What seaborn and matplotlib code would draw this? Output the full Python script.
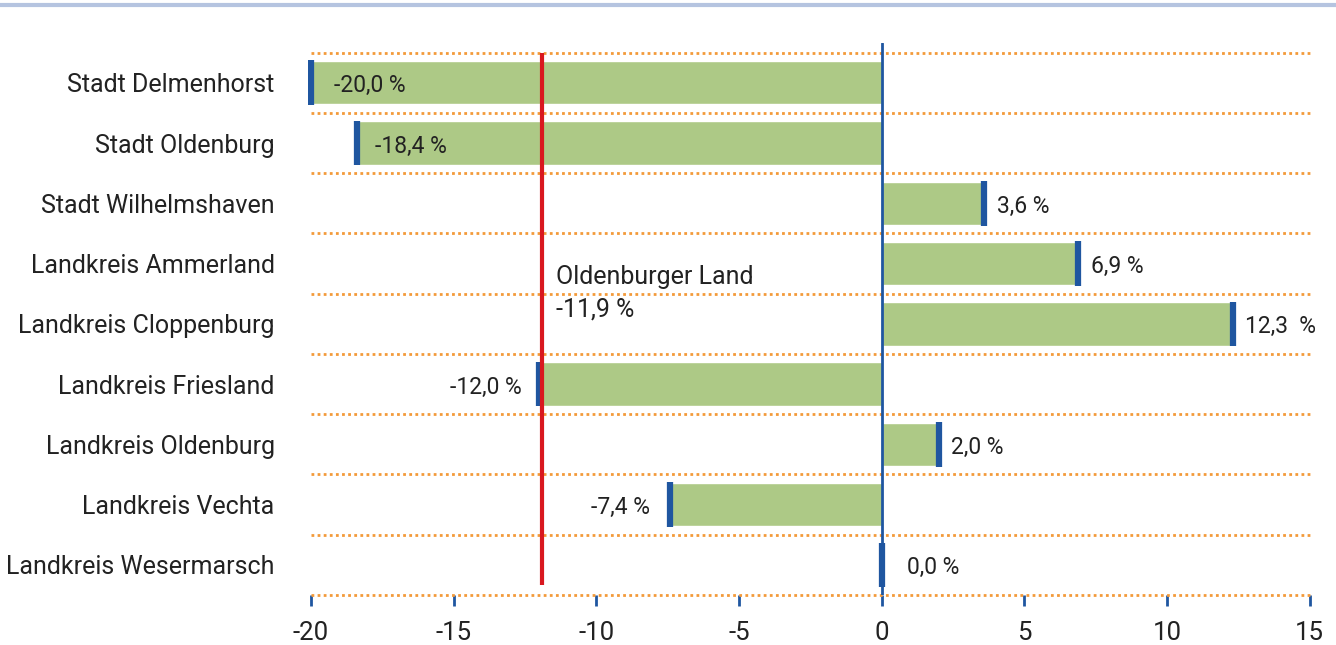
import numpy as np
import pandas as pd
import matplotlib
matplotlib.use('Agg')
import matplotlib.pyplot as plt
import seaborn as sns
from matplotlib.lines import Line2D

regions = ['Stadt Delmenhorst', 'Stadt Oldenburg', 'Stadt Wilhelmshaven',
           'Landkreis Ammerland', 'Landkreis Cloppenburg', 'Landkreis Friesland',
           'Landkreis Oldenburg', 'Landkreis Vechta', 'Landkreis Wesermarsch']
change = [-20.0, -18.4, 3.6, 6.9, 12.3, -12.0, 2.0, -7.4, 0.0]
labels = ['-20,0 %', '-18,4 %', '3,6 %', '6,9 %', '12,3  %', '-12,0 %', '2,0 %', '-7,4 %', '0,0 %']
land_value = -11.9
land_label = 'Oldenburger Land\n-11,9 %'
xticks = [-20, -15, -10, -5, 0, 5, 10, 15]

green = '#adc986'
blue = '#1f56a0'
red = '#d9181f'
orange = '#f39a3a'
text_col = '#222222'

sns.set_theme(style='white')
plt.rcParams['font.family'] = ['Roboto', 'DejaVu Sans']

df = pd.DataFrame({'region': regions, 'change': change})

fig = plt.figure(figsize=(13.36, 6.45), dpi=100)
ax = fig.add_axes([308 / 1336, 1 - 595 / 645, (1311 - 308) / 1336, (595 - 43) / 645])

sns.barplot(data=df, x='change', y='region', orient='h', color=green,
            width=0.72, saturation=1, ax=ax, zorder=2)

# blue end caps
ax.vlines(df['change'], np.arange(len(df)) - 0.37, np.arange(len(df)) + 0.37,
          color=blue, lw=4.5, zorder=4)

# dotted separators
ax.hlines(np.arange(len(df) + 1) - 0.5, -20, 15, color=orange, lw=2,
          linestyles=(0, (1, 1.2)), zorder=1, clip_on=False)

ax.axvline(0, color=blue, lw=2, zorder=3)
ax.vlines(land_value, -0.5, 8.34, color=red, lw=3, zorder=5)
ax.text(land_value + 0.5, 3.5, land_label, ha='left', va='center',
        fontsize=18, color=text_col, linespacing=1.45)

offsets = {0: ('left', 0.8), 1: ('left', 0.65), 5: ('right', -0.6), 7: ('right', -0.7)}
for i, (v, lab) in enumerate(zip(change, labels)):
    ha, off = offsets.get(i, ('left', 0.45 if v > 0 else 0.9))
    ax.text(v + off, i + 0.05, lab, ha=ha, va='center', fontsize=16.5, color=text_col, zorder=6)

ax.set_xlim(-20.1, 15.05)
ax.set_ylim(8.5, -0.66)
ax.set_xticks(xticks)
ax.set_xticklabels([str(t) for t in xticks])
ax.set_xlabel('')
ax.set_ylabel('')
ax.tick_params(axis='x', length=8, width=2, color=blue, direction='out',
               labelsize=18.5, labelcolor=text_col, pad=11, bottom=True)
ax.tick_params(axis='y', length=0, labelsize=18, labelcolor=text_col, pad=24)
for s in ax.spines.values():
    s.set_visible(False)

fig.add_artist(Line2D([0, 1], [1 - 5 / 645, 1 - 5 / 645], color='#b5c4e0', lw=3))

fig.savefig('out.png', dpi=100)
